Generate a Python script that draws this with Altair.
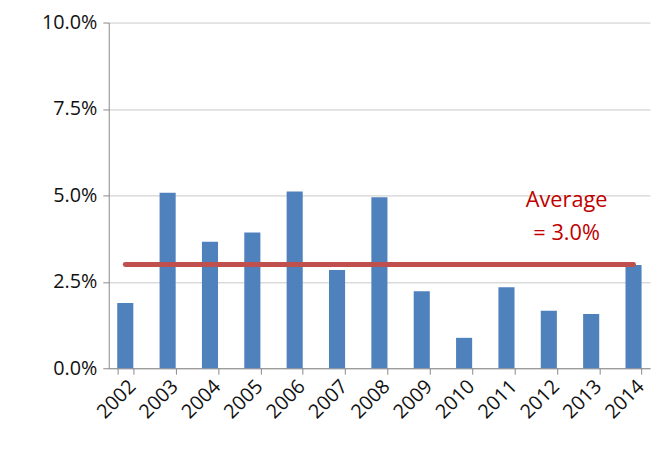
import altair as alt
import pandas as pd

years = [str(y) for y in range(2002, 2015)]
values = [0.0189, 0.0508, 0.0366, 0.0393, 0.0511, 0.0284, 0.0495,
          0.0223, 0.0088, 0.0234, 0.0166, 0.0157, 0.0299]
average = 0.030

df = pd.DataFrame({"year": years, "value": values, "avg": [average] * len(years)})
font = "Open Sans"

x = alt.X("year:N", sort=years, title=None,
          scale=alt.Scale(paddingInner=0.62, paddingOuter=0.2),
          axis=alt.Axis(labelAngle=-45, labelFontSize=20, labelFont=font, labelColor="#111",
                        domainColor="#888", tickColor="#888", tickSize=6,
                        tickBand="extent", labelPadding=2))
y = alt.Y("value:Q", title=None,
          scale=alt.Scale(domain=[0, 0.10]),
          axis=alt.Axis(values=[0, 0.025, 0.05, 0.075, 0.10], format=".1%",
                        labelFontSize=20, labelFont=font, labelColor="#111",
                        domainColor="#888", tickColor="#888", tickSize=6,
                        gridColor="#c8c8c8", labelPadding=6))

bars = alt.Chart(df).mark_bar(color="#4F81BD").encode(x=x, y=y)

line = alt.Chart(df).mark_line(color="#C0504D", strokeWidth=5, strokeCap="round").encode(
    x=alt.X("year:N", sort=years), y=alt.Y("avg:Q"))

label = alt.Chart(pd.DataFrame({"year": ["2012"], "v": [0.0485], "t": ["Average\n= 3.0%"]})).mark_text(
    color="#C00000", fontSize=22, font=font, lineBreak="\n", lineHeight=33,
    baseline="middle", dx=18).encode(x=alt.X("year:N", sort=years), y=alt.Y("v:Q"), text="t:N")

chart = (bars + line + label).properties(
    width=548, height=350, padding={"left": 102, "top": 12, "right": 4, "bottom": 77},
    autosize=alt.AutoSizeParams(type="none")
).configure_view(stroke=None)

chart.save("out.html", embed_options={"renderer": "svg", "actions": False})
